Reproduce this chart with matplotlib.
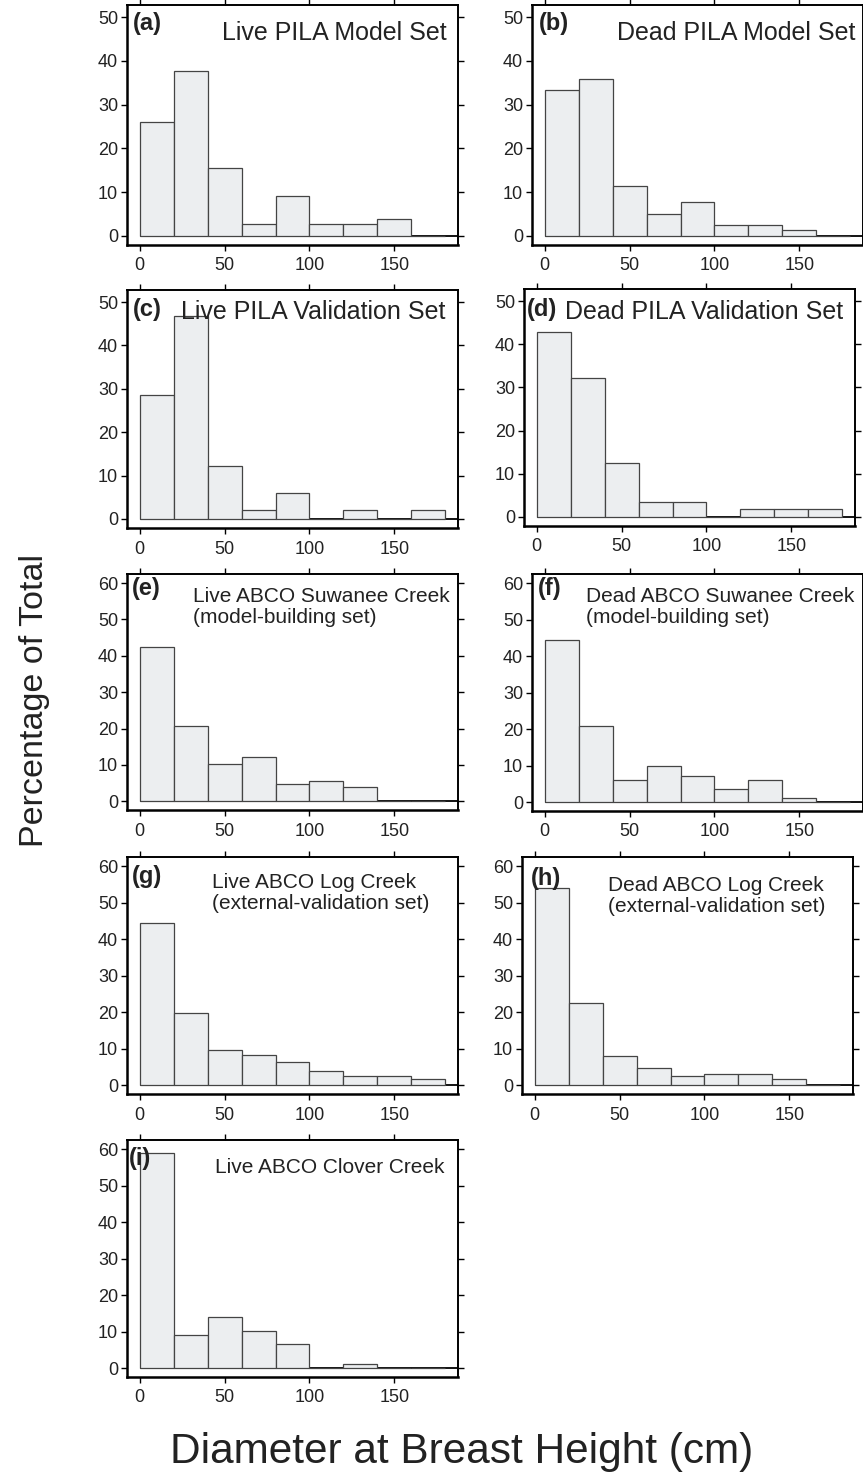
import numpy as np
import matplotlib
matplotlib.use('Agg')
from matplotlib import pyplot as plt

plt.rcParams['font.family'] = ['Liberation Sans', 'DejaVu Sans']

bin_edges = [0, 20, 40, 60, 80, 100, 120, 140, 160, 180]

live_pila_model = [26.0, 37.7, 15.6, 2.6, 9.1, 2.6, 2.6, 3.9, 0]
dead_pila_model = [33.4, 35.9, 11.5, 5.1, 7.7, 2.5, 2.5, 1.3, 0]
live_pila_valid = [28.6, 46.9, 12.2, 2.0, 6.0, 0, 2.0, 0, 2.0]
dead_pila_valid = [42.8, 32.1, 12.5, 3.5, 3.5, 0, 1.8, 1.8, 1.8]
live_abco_suwanee = [42.5, 20.7, 10.3, 12.2, 4.7, 5.7, 3.8, 0, 0]
dead_abco_suwanee = [44.4, 21.0, 6.1, 9.8, 7.3, 3.7, 6.1, 1.2, 0]
live_abco_log = [44.3, 19.9, 9.6, 8.3, 6.4, 3.8, 2.5, 2.5, 1.8]
dead_abco_log = [54.0, 22.5, 8.0, 4.8, 2.4, 3.2, 3.2, 1.6, 0]
live_abco_clover = [59.0, 9.2, 14.1, 10.3, 6.6, 0, 1.2, 0, 0]

letters = ['(a)', '(b)', '(c)', '(d)', '(e)', '(f)', '(g)', '(h)', '(i)']
titles = ['Live PILA Model Set', 'Dead PILA Model Set',
          'Live PILA Validation Set', 'Dead PILA Validation Set',
          'Live ABCO Suwanee Creek\n(model-building set)',
          'Dead ABCO Suwanee Creek\n(model-building set)',
          'Live ABCO Log Creek\n(external-validation set)',
          'Dead ABCO Log Creek\n(external-validation set)',
          'Live ABCO Clover Creek']
series = [live_pila_model, dead_pila_model, live_pila_valid, dead_pila_valid,
          live_abco_suwanee, dead_abco_suwanee, live_abco_log, dead_abco_log,
          live_abco_clover]

W, H = 863, 1475
fig = plt.figure(figsize=(W / 100, H / 100), dpi=100)

# axes boxes in pixels: left, top, right, bottom
boxes = [(127, 5, 458, 245), (532, 5, 863, 245),
         (127, 290, 458, 528), (524, 289, 855, 526),
         (127, 574, 458, 810), (532, 574, 863, 811),
         (127, 857, 458, 1094), (522, 857, 853, 1094),
         (127, 1140, 458, 1377)]

# letter pos (x, y px from axes top-left), title pos, title ha, title size
letter_pos = [(6, 7), (7, 7), (6, 8), (3, 9), (5, 3), (6, 3), (5, 8), (9, 10), (2, 7)]
title_pos = [(320, 16), (323, 16), (318, 10), (319, 11), (66, 13), (54, 13),
             (85, 16), (86, 19), (88, 18)]
title_ha = ['right', 'right', 'right', 'right', 'left', 'left', 'left', 'left', 'left']
title_size = [18, 18, 18, 18, 15, 15, 15, 15, 15]

text_col = '#222222'

for k in range(9):
    l, t, r, b = boxes[k]
    ax = fig.add_axes([l / W, 1 - b / H, (r - l) / W, (b - t) / H])
    edges = np.array(bin_edges)
    ax.hlines(0, 0, 200, color='black', lw=1.3, zorder=1)
    ax.bar(edges[:-1], series[k], width=20, align='edge', color='#eceef0',
           edgecolor='#444444', linewidth=0.9, zorder=2)
    ax.set_xlim(-7.5, 187.5)
    if k < 4:
        ax.set_ylim(-2.1, 52.8)
        ax.set_yticks([0, 10, 20, 30, 40, 50])
    else:
        ax.set_ylim(-2.4, 62.5)
        ax.set_yticks([0, 10, 20, 30, 40, 50, 60])
    ax.set_xticks([0, 50, 100, 150])
    ax.tick_params(direction='out', length=4, width=1, top=True, right=True,
                   labelsize=13, colors='black', labelcolor=text_col)
    ax.tick_params(axis='x', pad=5)
    ax.tick_params(axis='y', pad=2.5)
    for s in ax.spines.values():
        s.set_linewidth(1.4)
        s.set_color('black')
    ax.spines['left'].set_linewidth(1.8)
    ax.spines['bottom'].set_linewidth(1.8)

    aw, ah = r - l, b - t
    lx, ly = letter_pos[k]
    ax.text(lx / aw, 1 - ly / ah, letters[k], transform=ax.transAxes,
            fontsize=17, fontweight='bold', ha='left', va='top', color=text_col)
    tx, ty = title_pos[k]
    ax.text(tx / aw, 1 - ty / ah, titles[k], transform=ax.transAxes,
            fontsize=title_size[k], ha=title_ha[k], va='top', color=text_col,
            linespacing=1.15)

fig.text(35 / W, 1 - 700 / H, 'Percentage of Total', rotation=90,
         ha='center', va='center', fontsize=24.5, color=text_col)
fig.text(462 / W, 1 - 1452 / H, 'Diameter at Breast Height (cm)',
         ha='center', va='center', fontsize=30.5, color=text_col)

plt.savefig('out.png', dpi=100)
